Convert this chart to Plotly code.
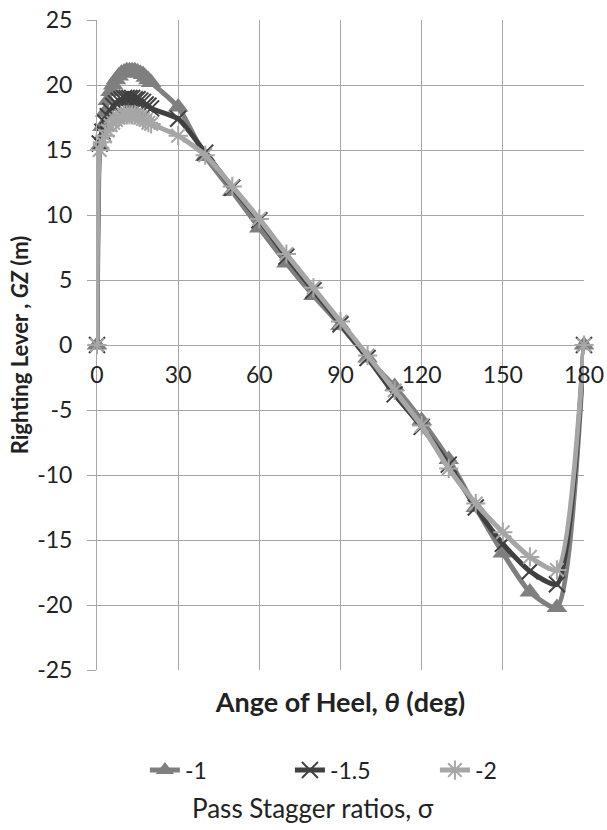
import plotly.graph_objects as go

# Heel angles (deg)
heel = [0, 1, 2, 3, 4, 5, 6, 7, 8, 9, 10, 11, 12, 13, 14, 15, 16, 17, 18, 19, 20,
        30, 40, 50, 60, 70, 80, 90, 100, 110, 120, 130, 140, 150, 160, 170, 180]

# Righting lever GZ (m) for each pass stagger ratio
gz_s1 = [0, 15.3, 16.8, 17.9, 18.8, 19.5, 20.0, 20.4, 20.7, 20.9, 21.0, 21.1, 21.1, 21.1, 21.1,
         21.0, 20.9, 20.8, 20.6, 20.4, 20.2,
         18.3, 14.5, 11.8, 9.0, 6.3, 3.8, 1.5, -1.0, -3.2, -5.8, -8.8, -12.5, -16.0, -19.0, -20.2, 0]
gz_s15 = [0, 15.5, 16.4, 17.1, 17.6, 18.0, 18.4, 18.6, 18.8, 18.9, 19.0, 19.0, 19.0, 19.0, 18.9,
          18.9, 18.8, 18.7, 18.5, 18.4, 18.2,
          17.4, 14.8, 12.1, 9.6, 6.8, 4.2, 1.6, -1.0, -3.8, -6.3, -9.2, -12.5, -15.3, -17.4, -18.4, 0]
gz_s2 = [0, 15.0, 15.6, 16.1, 16.5, 16.9, 17.1, 17.3, 17.5, 17.6, 17.7, 17.7, 17.7, 17.7, 17.7,
         17.6, 17.5, 17.4, 17.3, 17.1, 17.0,
         16.1, 14.6, 12.2, 9.7, 7.0, 4.4, 1.8, -0.8, -3.5, -6.2, -9.5, -12.2, -14.4, -16.3, -17.3, 0]

series_names = ["-1", "-1.5", "-2"]
x_ticks = [0, 30, 60, 90, 120, 150, 180]
x_ticklabels = ["0", "30", "60", "90", "120", "150", "180"]
y_ticks = [-25, -20, -15, -10, -5, 0, 5, 10, 15, 20, 25]
y_ticklabels = ["-25", "-20", "-15", "-10", "-5", "0", "5", "10", "15", "20", "25"]

FONT = "Lato"
GRID = "#a6a6a6"
TXT = "#222222"

fig = go.Figure()
fig.add_trace(go.Scatter(
    x=heel, y=gz_s1, name=series_names[0], mode="lines+markers", cliponaxis=False,
    line=dict(color="#7f7f7f", width=5, shape="spline", smoothing=0.6),
    marker=dict(symbol="triangle-up", size=18, color="#7f7f7f"),
))
fig.add_trace(go.Scatter(
    x=heel, y=gz_s15, name=series_names[1], mode="lines+markers", cliponaxis=False,
    line=dict(color="#404040", width=5, shape="spline", smoothing=0.6),
    marker=dict(symbol="x-thin-open", size=16, color="#404040", line=dict(color="#404040", width=2)),
))
fig.add_trace(go.Scatter(
    x=heel, y=gz_s2, name=series_names[2], mode="lines+markers", cliponaxis=False,
    line=dict(color="#a6a6a6", width=5, shape="spline", smoothing=0.6),
    marker=dict(symbol="asterisk-open", size=16, color="#a6a6a6", line=dict(color="#a6a6a6", width=2)),
))
# placeholder so the zero-crossing axis is drawn
fig.add_trace(go.Scatter(x=[None], y=[None], xaxis="x2", showlegend=False, hoverinfo="skip"))

fig.update_layout(
    width=607, height=830,
    margin=dict(l=97, r=23, t=20, b=160),
    paper_bgcolor="white", plot_bgcolor="white",
    font=dict(family=FONT, size=23, color=TXT),
    showlegend=True,
    xaxis=dict(
        range=[0, 180], tickvals=x_ticks, showticklabels=False, automargin=False,
        showgrid=True, gridcolor=GRID, gridwidth=1, zeroline=False, showline=False,
        title=dict(text="<b>Ange of Heel, <i>θ</i> (deg)</b>", font=dict(size=27, family=FONT), standoff=23),
    ),
    xaxis2=dict(
        overlaying="x", anchor="free", position=0.5, range=[0, 180],
        tickvals=x_ticks, ticktext=x_ticklabels, automargin=False, ticklabelstandoff=9,
        ticklabeloverflow="allow",
        showgrid=False, zeroline=False, showline=True, linecolor=GRID, linewidth=1,
        ticks="", tickfont=dict(size=23, family=FONT, color=TXT), side="bottom",
    ),
    yaxis=dict(
        range=[-25, 25], tickvals=y_ticks, ticktext=y_ticklabels, automargin=False,
        showgrid=True, gridcolor=GRID, gridwidth=1, ticklabelstandoff=10,
        ticklabeloverflow="allow",
        zeroline=False, showline=True, linecolor=GRID, ticks="outside", ticklen=9, tickcolor=GRID,
        tickfont=dict(size=23, family=FONT, color=TXT),
        title=dict(text="<b>Righting Lever , <i>GZ</i> (m)</b>", font=dict(size=22, family=FONT), standoff=2),
    ),
    legend=dict(
        orientation="h", x=0.545, xanchor="center", y=-0.154, yanchor="middle",
        font=dict(size=23, family=FONT, color=TXT), entrywidth=100,
    ),
    annotations=[dict(
        text="Pass Stagger ratios, σ", xref="paper", yref="paper", x=0.444, y=-0.212,
        xanchor="center", yanchor="middle", showarrow=False,
        font=dict(size=26, family=FONT, color=TXT),
    )],
)

fig.write_html(
    "out.html",
    config={"displayModeBar": False},
    post_script="document.body.style.margin='0';document.body.style.overflow='hidden';",
)
